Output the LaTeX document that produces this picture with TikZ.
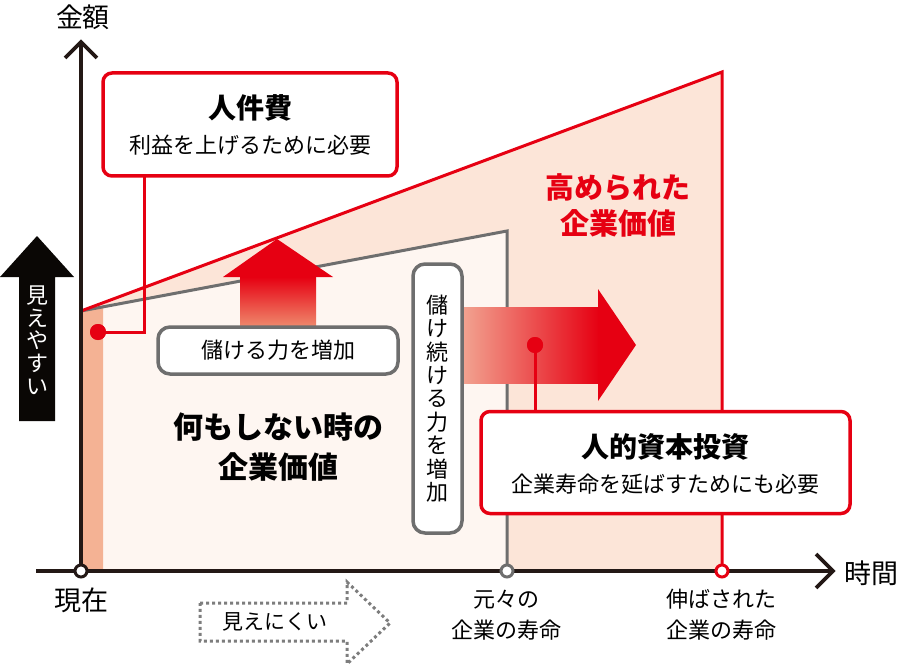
\documentclass[tikz,border=0pt]{standalone}
\usepackage{fontspec}
\setmainfont{Noto Sans CJK JP}
\definecolor{myred}{RGB}{230,0,18}
\definecolor{peach}{RGB}{252,229,216}
\definecolor{lightfill}{RGB}{254,246,241}
\definecolor{stripc}{RGB}{244,178,148}
\definecolor{grayc}{RGB}{110,110,110}
\definecolor{axisc}{RGB}{35,24,21}
\definecolor{upsalmon}{RGB}{239,138,109}
\definecolor{rsalmon}{RGB}{242,164,145}
\definecolor{dotgray}{RGB}{125,125,125}
\definecolor{blk}{RGB}{10,7,5}
\begin{document}
\begin{tikzpicture}[x=1pt,y=-1pt,
  axisline/.style={draw=axisc,line width=3.6pt},
  redline/.style={draw=myred,line width=3pt},
  grayline/.style={draw=grayc,line width=3pt},
  redbox/.style={draw=myred,line width=3.5pt,fill=white,rounded corners=9pt,inner sep=0pt},
  graybox/.style={draw=grayc,line width=3.5pt,fill=white,rounded corners=12pt,inner sep=0pt},
  reddot/.style={circle,fill=myred,inner sep=0pt,minimum size=16pt},
  ring/.style={circle,fill=white,line width=3pt,inner sep=0pt,minimum size=12pt},
  ttl/.style={font=\fontsize{28}{34}\selectfont\bfseries},
  subt/.style={font=\fontsize{22}{26}\selectfont},
  lbl/.style={font=\fontsize{22}{31}\selectfont,align=center},
  axlbl/.style={font=\fontsize{27}{30}\selectfont}
]
\useasboundingbox (0,0) rectangle (900,666);

% key points
\coordinate (S) at (81,311);
\coordinate (RT) at (722,72);
\coordinate (RB) at (722,571);
\coordinate (GT) at (507,231);
\coordinate (GB) at (507,571);
\coordinate (O) at (81,571);

% areas
\fill[peach] (S) -- (RT) -- (RB) -- (O) -- cycle;
\fill[lightfill] (S) -- (GT) -- (GB) -- (O) -- cycle;
\fill[stripc] (S) -- (103,307) -- (103,571) -- (O) -- cycle;
\draw[grayline,line join=miter] (S) -- (GT) -- (GB);
\draw[redline,line join=miter] (S) -- (RT) -- (RB);

% up arrow (gradient)
\shade[top color=myred,bottom color=upsalmon] (240,277) rectangle (316,327);
\fill[myred] (223,277) -- (277,239) -- (333,277) -- cycle;

% right arrow (gradient)
\shade[left color=rsalmon,right color=myred] (462,307) rectangle (599,383);
\fill[myred] (598,289) -- (636,345) -- (598,401) -- cycle;

% black arrow
\fill[blk] (19,421) -- (19,277) -- (0,277) -- (37,236) -- (74,277) -- (55,277) -- (55,421) -- cycle;
\node[text=white,align=center,font=\fontsize{22}{22.75}\selectfont] (easy) at (37,340) {見\\え\\や\\す\\い};

% dotted arrow
\draw[dotgray,line width=3pt,dash pattern=on 3pt off 3pt]
  (200,603) -- (347,603) -- (347,582) -- (390,623) -- (347,664) -- (347,641) -- (200,641) -- cycle;
\node[font=\fontsize{21}{24}\selectfont] (hard) at (275,622) {見えにくい};

% connectors
\node[reddot] (d1) at (98,332) {};
\node[reddot] (d2) at (535,345) {};
\coordinate (c1) at (144,176);
\draw[redline] (d1.center) -| (c1);
\node[redbox,minimum width=294pt,minimum height=103pt] (b1) at (250,124.5) {};
\node[redbox,minimum width=369pt,minimum height=102pt] (b2) at (665.5,462.5) {};
\draw[redline] (d2.center) -- (d2.center |- b2.north);
\node[reddot] at (d1) {};
\node[reddot] at (d2) {};

% texts in red boxes
\node[ttl] (t1) at (250,108) {人件費};
\node[subt] (s1) at (250,145) {利益を上げるために必要};
\node[ttl] (t2) at (665,447) {人的資本投資};
\node[subt] (s2) at (665,484) {企業寿命を延ばすためにも必要};

% gray boxes
\node[graybox,minimum width=240pt,minimum height=47pt,font=\fontsize{22}{26}\selectfont] (g1) at (278,350.5) {儲ける力を増加};
\node[graybox,minimum width=49pt,minimum height=269pt] (g2) at (437.5,398.5) {};
\node[align=center,font=\fontsize{22}{23.4}\selectfont] (vt) at (437.5,398.5) {儲\\け\\続\\け\\る\\力\\を\\増\\加};

% big labels
\node[align=center,font=\fontsize{30}{40}\selectfont\bfseries] (nothing) at (278,447) {何もしない時の\\企業価値};
\node[align=center,text=myred,font=\fontsize{29}{36}\selectfont\bfseries] (raised) at (618,205) {高められた\\企業価値};

% axes
\coordinate (xl) at (36,571);
\coordinate (xr) at (833,571);
\coordinate (yt) at (81,42);
\draw[axisline] (xl) -- (xr);
\draw[axisline,line join=miter] (816,554) -- (xr) -- (816,588);
\draw[axisline] (O) -- (yt);
\draw[axisline,line join=miter] (65,58) -- (yt) -- (97,58);
\node[ring,draw=axisc] (r0) at (O) {};
\node[ring,draw=grayc] (r1) at (GB) {};
\node[ring,draw=myred] (r2) at (RB) {};

\node[axlbl] (yl) at (83,17) {金額};
\node[axlbl] (xlab) at (871,573) {時間};
\node[axlbl] (now) at (81,600) {現在};
\node[lbl] (orig) at (506,615) {元々の\\企業の寿命};
\node[lbl] (ext) at (721,615) {伸ばされた\\企業の寿命};
\end{tikzpicture}
\end{document}
